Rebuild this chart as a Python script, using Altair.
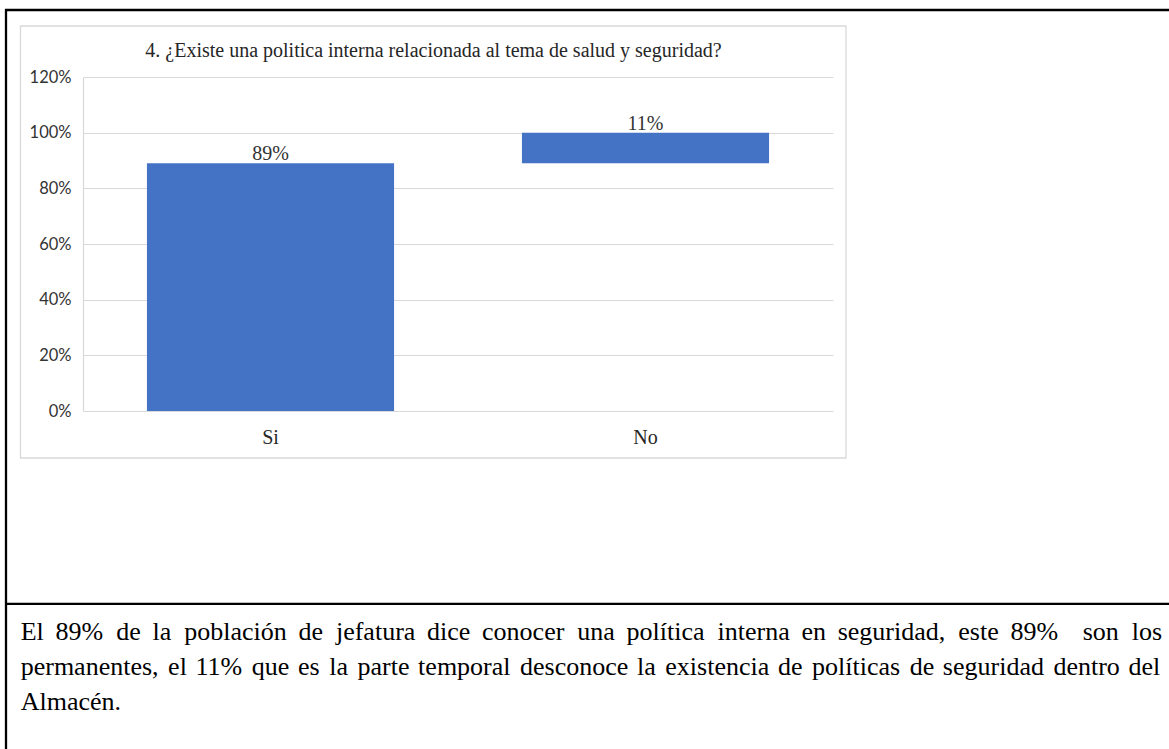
import itertools
import altair as alt
import pandas as pd

# ---------------- data ----------------
categories = ["Si", "No"]
values = [0.89, 0.11]
value_labels = ["89%", "11%"]
y_ticks = [0, 0.2, 0.4, 0.6, 0.8, 1.0, 1.2]
chart_title = "4. ¿Existe una politica interna relacionada al tema de salud y seguridad?"
paragraph_lines = [
    "El 89% de la población de jefatura dice conocer una política interna en seguridad, este 89%  son los",
    "permanentes, el 11% que es la parte temporal desconoce la existencia de políticas de seguridad dentro del",
    "Almacén.",
]

# waterfall table
starts, ends = [], []
running = 0.0
for v in values:
    starts.append(running)
    running = round(running + v, 6)
    ends.append(running)
bars_df = pd.DataFrame({"cat": categories, "start": starts, "end": ends, "label": value_labels})

# ---------------- text justification helper (Times metrics) ----------------
TNR = {' ': 250, 'E': 611, 'A': 722, 'l': 278, '8': 500, '9': 500, '1': 500, '%': 833,
       'd': 500, 'e': 444, 'a': 444, 'p': 500, 'o': 500, 'b': 500, 'c': 444, 'i': 278,
       'ó': 500, 'n': 500, 'j': 278, 'f': 333, 't': 278, 'u': 500, 'r': 333, 's': 389,
       'í': 278, 'g': 500, 'm': 778, ',': 250, '.': 250, 'q': 500, 'x': 500, 'é': 444, 'y': 500}
UNITS = {'\u2002': 0.5, '\u2004': 1 / 3, '\u00a0': 0.25, '\u2009': 0.2, '\u2006': 1 / 6}
COMBOS = []
for k in (1, 2, 3):
    for combo in itertools.combinations_with_replacement(UNITS.items(), k):
        COMBOS.append(("".join(c[0] for c in combo), sum(c[1] for c in combo)))


def justify(line, size, width):
    words = line.split(" ")
    glyph = sum(TNR.get(ch, 500) for w in words for ch in w) / 1000 * size
    n = len(words) - 1
    gap_em = (width - glyph) / n / size
    out, carry = words[0], 0.0
    for w in words[1:]:
        want = gap_em + carry
        s, wd = min(COMBOS, key=lambda c: abs(c[1] - want))
        carry = want - wd
        out += s + w
    return out


PARA_SIZE = 26
TEXT_WIDTH = 1141
para_text = [justify(paragraph_lines[0], PARA_SIZE, TEXT_WIDTH),
             justify(paragraph_lines[1], PARA_SIZE, TEXT_WIDTH),
             paragraph_lines[2]]

# ---------------- chart ----------------
W, H = 750, 334
OX, OY = 83, 77  # plot origin on the page

x_enc = alt.X("cat:N", sort=categories,
              scale=alt.Scale(paddingInner=0.341, paddingOuter=0.1705),
              axis=alt.Axis(title=None, labelAngle=0, labelFont="Liberation Serif",
                            labelFontSize=20, labelColor="#262626", labelPadding=32,
                            labelBaseline="alphabetic", domain=False, ticks=False, grid=False))
y_enc = alt.Y("start:Q", scale=alt.Scale(domain=[0, 1.2], nice=False),
              axis=alt.Axis(values=y_ticks, format=".0%", title=None, labelFont="Lato",
                            labelFontSize=16.5, labelColor="#333333", labelPadding=12,
                            ticks=False, domain=True, domainColor="#d9d9d9", domainWidth=1.2,
                            gridColor="#d9d9d9", gridWidth=1.2))

base = alt.Chart(bars_df)
bars = base.mark_bar(color="#4472C4").encode(x=x_enc, y=y_enc, y2="end:Q")
labels = base.mark_text(font="Liberation Serif", fontSize=20, color="#333333",
                        baseline="alphabetic", dy=-3).encode(
    x=alt.X("cat:N", sort=categories), y=alt.Y("end:Q"), text="label:N")

one = alt.Data(values=[{"k": 1}])

chart_box = alt.Chart(one).mark_rect(fill="transparent", stroke="#d9d9d9", strokeWidth=1.3).encode(
    x=alt.value(20.5 - OX), x2=alt.value(846 - OX), y=alt.value(26 - OY), y2=alt.value(458 - OY))

title = alt.Chart(one).mark_text(font="Liberation Serif", fontSize=20, color="#262626",
                                 align="center", baseline="alphabetic").encode(
    x=alt.value(433.5 - OX), y=alt.value(56.7 - OY), text=alt.value(chart_title))

border_top = alt.Chart(one).mark_rule(color="black", strokeWidth=2.3).encode(
    x=alt.value(5 - OX), x2=alt.value(1180 - OX), y=alt.value(10 - OY))
border_left = alt.Chart(one).mark_rule(color="black", strokeWidth=2.3).encode(
    x=alt.value(6 - OX), y=alt.value(9 - OY), y2=alt.value(760 - OY))
divider = alt.Chart(one).mark_rule(color="black", strokeWidth=2.3).encode(
    x=alt.value(5 - OX), x2=alt.value(1180 - OX), y=alt.value(603.8 - OY))

para_layers = []
for txt, yb in zip(para_text, [639.5, 675.0, 710.0]):
    para_layers.append(
        alt.Chart(one).mark_text(font="Liberation Serif", fontSize=PARA_SIZE, color="black",
                                 align="left", baseline="alphabetic").encode(
            x=alt.value(20.7 - OX), y=alt.value(yb - OY), text=alt.value(txt)))

chart = alt.layer(chart_box, title, bars, labels, border_top, border_left, divider,
                  *para_layers).properties(
    width=W, height=H,
    padding={"left": OX, "top": OY, "right": 1169 - OX - W, "bottom": 749 - OY - H},
    autosize=alt.AutoSizeParams(type="none"),
    background="white",
).configure_view(stroke="transparent")

chart.save("out.html", embed_options={"renderer": "svg", "actions": False})
